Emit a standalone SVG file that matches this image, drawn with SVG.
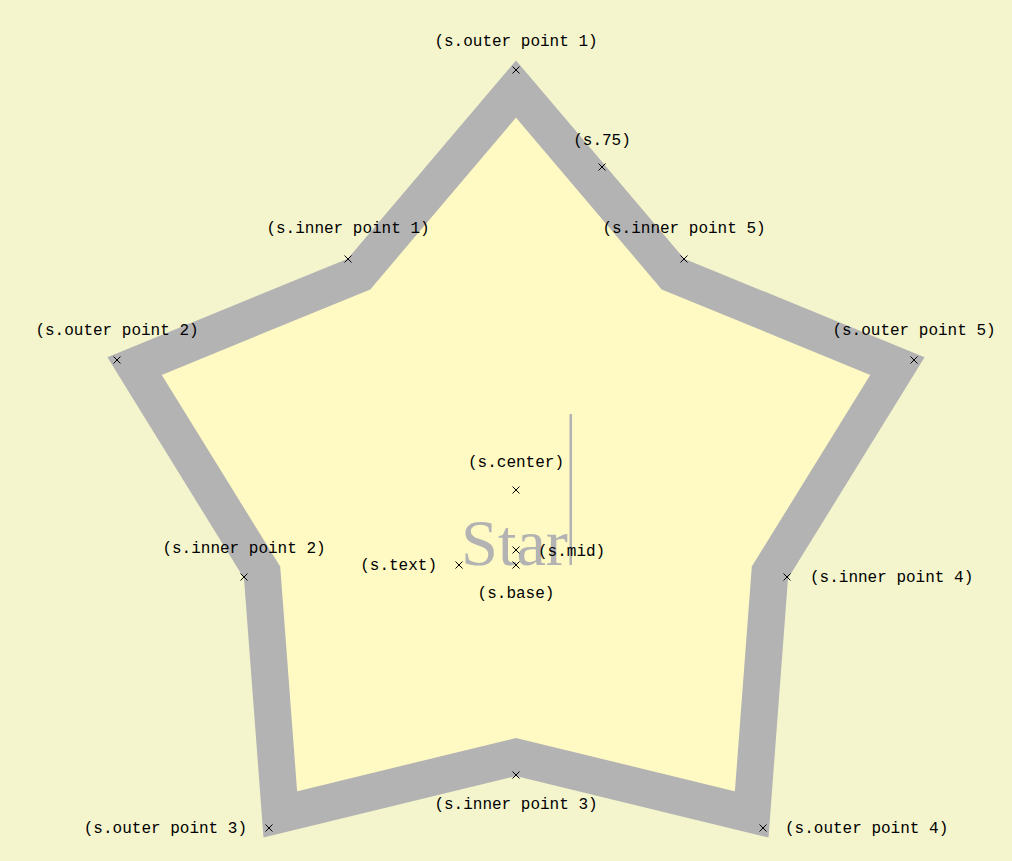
<svg xmlns="http://www.w3.org/2000/svg" width="1012" height="861" viewBox="0 0 1012 861">
<style>
.lbl{font-family:"Liberation Mono","DejaVu Sans Mono",monospace;font-size:16px;fill:#000}
.m{text-anchor:middle}
.e{text-anchor:end}
.x{stroke:#000;stroke-width:1;fill:none}
</style>
<defs>
<path id="cross" class="x" d="M-3.5,-3.5L3.5,3.5M-3.5,3.5L3.5,-3.5"/>
</defs>
<rect x="0" y="0" width="1012" height="861" fill="#f4f5cd"/>
<g id="s">
<polygon points="516,89 672.9,274 897.4,366.1 769.9,572.5 751.7,814.4 516,757 280.3,814.4 262.1,572.5 134.6,366.1 359.1,274" fill="#fffac3" stroke="#b3b3b3" stroke-width="37" stroke-linejoin="miter" stroke-miterlimit="10"/>
<text x="461" y="565" font-family="Liberation Serif, serif" font-size="66" fill="#b3b3b3" textLength="107" lengthAdjust="spacingAndGlyphs">Star</text>
<rect x="569.5" y="414" width="2.5" height="151" fill="#b3b3b3"/>
</g>
<g id="anchors">
<use href="#cross" x="516" y="70"/>
<use href="#cross" x="602" y="167"/>
<use href="#cross" x="348" y="259"/>
<use href="#cross" x="684" y="259"/>
<use href="#cross" x="117" y="360"/>
<use href="#cross" x="914" y="360"/>
<use href="#cross" x="516" y="490"/>
<use href="#cross" x="244" y="577"/>
<use href="#cross" x="787" y="577"/>
<use href="#cross" x="459" y="565"/>
<use href="#cross" x="516" y="550"/>
<use href="#cross" x="516" y="565"/>
<use href="#cross" x="516" y="775"/>
<use href="#cross" x="269" y="828"/>
<use href="#cross" x="763" y="828"/>
</g>
<g id="labels">
<text class="lbl m" x="516" y="46">(s.outer point 1)</text>
<text class="lbl m" x="602" y="145">(s.75)</text>
<text class="lbl m" x="348" y="233">(s.inner point 1)</text>
<text class="lbl m" x="684" y="233">(s.inner point 5)</text>
<text class="lbl m" x="117" y="335">(s.outer point 2)</text>
<text class="lbl m" x="914" y="335">(s.outer point 5)</text>
<text class="lbl m" x="516" y="467">(s.center)</text>
<text class="lbl m" x="244" y="553">(s.inner point 2)</text>
<text class="lbl" x="810" y="582">(s.inner point 4)</text>
<text class="lbl e" x="437" y="570">(s.text)</text>
<text class="lbl" x="538" y="556">(s.mid)</text>
<text class="lbl m" x="516" y="598">(s.base)</text>
<text class="lbl m" x="516" y="809">(s.inner point 3)</text>
<text class="lbl e" x="247" y="833">(s.outer point 3)</text>
<text class="lbl" x="785" y="833">(s.outer point 4)</text>
</g>
</svg>
